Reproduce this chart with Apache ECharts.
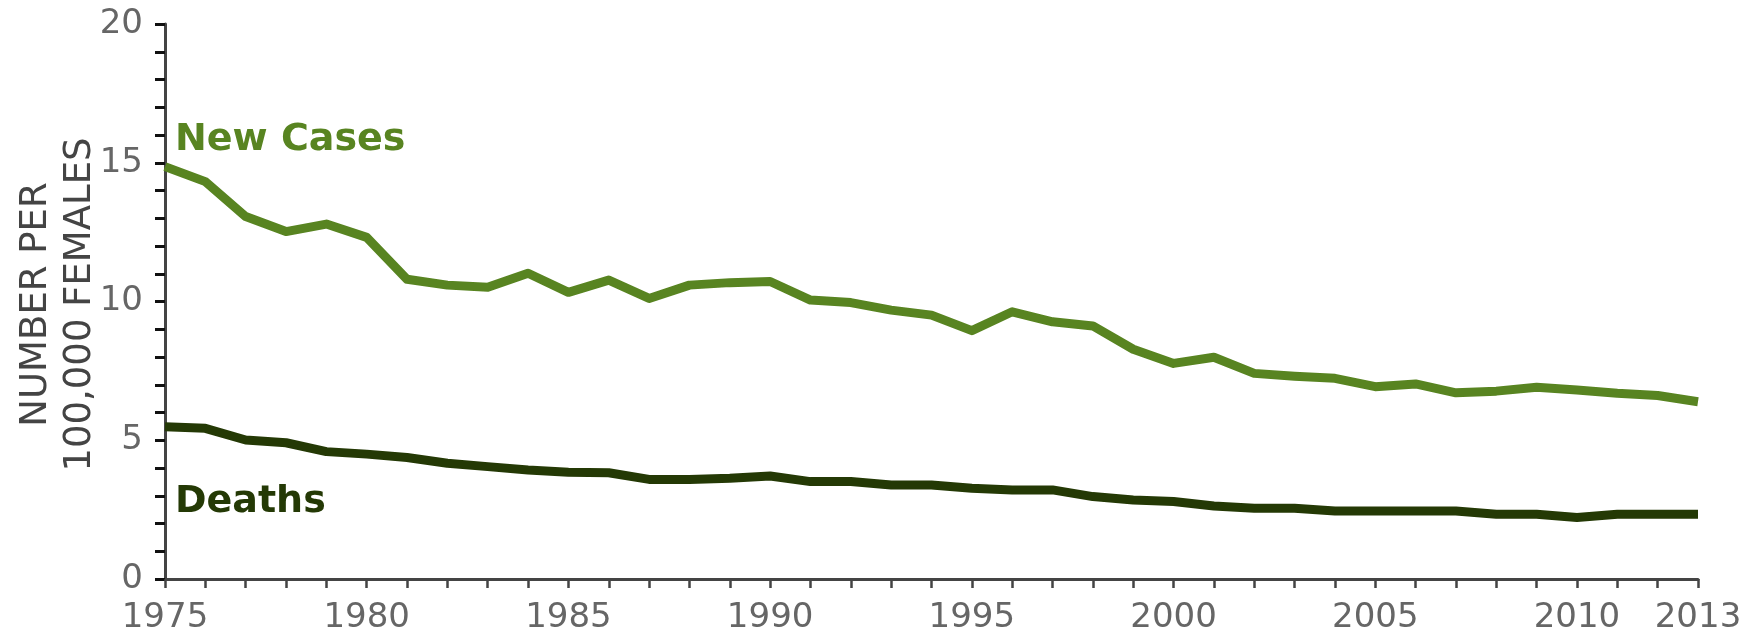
<!DOCTYPE html>
<html>
<head>
<meta charset="utf-8">
<script src="https://cdn.jsdelivr.net/npm/echarts@6/dist/echarts.min.js"></script>
<style>
  html, body { margin: 0; padding: 0; background: #fff; }
  #chart { width: 1753px; height: 635px; }
</style>
</head>
<body>
<div id="chart"></div>
<script>
const years = [1975,1976,1977,1978,1979,1980,1981,1982,1983,1984,1985,1986,1987,1988,1989,1990,1991,1992,1993,1994,1995,1996,1997,1998,1999,2000,2001,2002,2003,2004,2005,2006,2007,2008,2009,2010,2011,2012,2013];
const newCases = [14.86,14.32,13.06,12.52,12.79,12.31,10.80,10.59,10.51,11.02,10.33,10.77,10.11,10.59,10.68,10.72,10.05,9.96,9.69,9.51,8.95,9.63,9.27,9.12,8.28,7.77,7.99,7.41,7.31,7.23,6.93,7.03,6.71,6.77,6.91,6.81,6.69,6.61,6.39];
const deaths = [5.49,5.43,5.01,4.91,4.59,4.50,4.38,4.17,4.05,3.93,3.85,3.83,3.59,3.59,3.63,3.71,3.51,3.51,3.39,3.39,3.27,3.21,3.21,2.97,2.85,2.79,2.63,2.55,2.55,2.45,2.45,2.45,2.45,2.33,2.33,2.22,2.33,2.33,2.33];
const yTicks = [0,5,10,15,20];
const xLabelYears = [1975,1980,1985,1990,1995,2000,2005,2010,2013];
const yAxisTitle = 'NUMBER PER\n100,000 FEMALES';
const seriesNames = ['New Cases','Deaths'];

const green = '#588421';
const dark = '#243905';

const chart = echarts.init(document.getElementById('chart'), null, {renderer: 'canvas'});
chart.setOption({
  animation: false,
  backgroundColor: '#fff',
  grid: { left: 165, right: 55, top: 24, bottom: 56, containLabel: false, outerBoundsMode: 'none' },
  xAxis: {
    type: 'value',
    min: years[0], max: years[years.length - 1], interval: 1,
    axisLine: { show: true, lineStyle: { color: '#444', width: 3 } },
    axisTick: { show: true, length: 9, lineStyle: { color: '#444', width: 2.5 } },
    splitLine: { show: false },
    axisLabel: {
      margin: 22,
      fontFamily: 'DejaVu Sans', fontSize: 34, color: '#666',
      formatter: v => xLabelYears.indexOf(v) >= 0 ? String(v) : ''
    }
  },
  yAxis: {
    type: 'value',
    min: yTicks[0], max: yTicks[yTicks.length - 1], interval: 5,
    name: yAxisTitle,
    nameLocation: 'middle', nameRotate: 90, nameGap: 63, nameMoveOverlap: false,
    nameTextStyle: { fontFamily: 'DejaVu Sans', fontSize: 37, color: '#444', lineHeight: 44, align: 'center', padding: [0, 6, 0, 0] },
    axisLine: { show: true, lineStyle: { color: '#444', width: 3 } },
    axisTick: { show: true, length: 10, lineStyle: { color: '#111', width: 3 } },
    minorTick: { show: true, splitNumber: 5, length: 10, lineStyle: { color: '#111', width: 3 } },
    splitLine: { show: false },
    axisLabel: {
      margin: 22,
      fontFamily: 'DejaVu Sans', fontSize: 34, color: '#666',
      formatter: v => yTicks.indexOf(v) >= 0 ? String(v) : ''
    }
  },
  series: [
    {
      name: seriesNames[0], type: 'line', symbol: 'none',
      data: years.map((y, i) => [y, newCases[i]]),
      lineStyle: { color: green, width: 9, join: 'round', cap: 'butt' }
    },
    {
      name: seriesNames[1], type: 'line', symbol: 'none',
      data: years.map((y, i) => [y, deaths[i]]),
      lineStyle: { color: dark, width: 9, join: 'round', cap: 'butt' }
    }
  ],
  graphic: [
    { type: 'text', x: 175, y: 159,
      style: { text: seriesNames[0], fontFamily: 'DejaVu Sans', fontWeight: 'bold', fontSize: 38, fill: green, textVerticalAlign: 'bottom', verticalAlign: 'bottom' } },
    { type: 'text', x: 175, y: 521,
      style: { text: seriesNames[1], fontFamily: 'DejaVu Sans', fontWeight: 'bold', fontSize: 38, fill: dark, textVerticalAlign: 'bottom', verticalAlign: 'bottom' } }
  ]
});
</script>
</body>
</html>
